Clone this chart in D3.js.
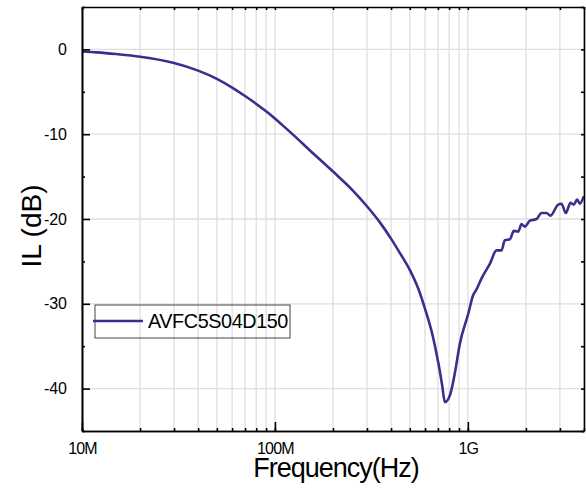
<!DOCTYPE html>
<html><head><meta charset="utf-8">
<script src="https://cdn.jsdelivr.net/npm/d3@7"></script>
<style>body{margin:0;background:#fff}svg{display:block;font-family:"Liberation Sans",Arial,sans-serif}</style>
</head><body><svg id="c" width="586" height="490"></svg>
<script>
const seriesName = "AVFC5S04D150";
const freqMHz = [10, 12, 15, 20, 30, 40, 50, 60, 70, 90, 100, 109, 129, 150, 200, 250, 300, 350, 402, 444, 500, 553, 600, 661, 702, 736, 760, 807, 856, 909, 1004, 1065, 1109, 1178, 1300, 1408, 1495, 1555, 1651, 1731, 1823, 1898, 1974, 2096, 2270, 2409, 2557, 2683, 2938, 3059, 3220, 3405, 3542, 3684, 3804, 3990];
const ilDb = [-0.24, -0.35, -0.55, -0.87, -1.6, -2.5, -3.47, -4.5, -5.5, -7.3, -8.15, -8.9, -10.4, -11.8, -14.4, -16.5, -18.5, -20.4, -22.4, -24.0, -26.0, -28.2, -30.6, -34.0, -36.9, -39.6, -41.6, -40.8, -38.2, -34.7, -31.2, -29.0, -28.3, -27.0, -25.3, -23.7, -23.7, -22.5, -22.4, -21.4, -21.5, -20.6, -20.9, -20.2, -20.0, -19.3, -19.3, -19.6, -18.3, -18.2, -19.3, -18.1, -18.3, -17.7, -18.2, -17.3];
const xTickValues = [1e7, 1e8, 1e9];
const xTickLabels = ["10M", "100M", "1G"];
const yTickValues = [0, -10, -20, -30, -40];
const yMinorValues = [5, -5, -15, -25, -35, -45];
const xTitle = "Frequency(Hz)";
const yTitle = "IL (dB)";

const L = 82, R = 584, T = 7, B = 431;
const svg = d3.select("#c");
svg.append("rect").attr("width", 586).attr("height", 490).attr("fill", "#fff");

const x = d3.scaleLog().domain([1e7, 4e9]).range([L, R]);
const y = d3.scaleLinear().domain([-45, 5]).range([B, T]);

const minorX = [];
for (let d = 1e7; d < 1e10; d *= 10) for (let k = 1; k <= 9; k++) { const v = d * k; if (v >= 1e7 && v <= 4e9) minorX.push(v); }

// grid
const g = svg.append("g");
g.selectAll(".vg").data(minorX).join("line")
  .attr("x1", d => x(d)).attr("x2", d => x(d)).attr("y1", T).attr("y2", B)
  .attr("stroke", "#dedede").attr("stroke-width", 1.3);
g.selectAll(".hg").data(yTickValues).join("line")
  .attr("x1", L).attr("x2", R).attr("y1", d => y(d)).attr("y2", d => y(d))
  .attr("stroke", "#dedede").attr("stroke-width", 1.3);

// curve
const data = freqMHz.map((f, i) => ({ f: f * 1e6, v: ilDb[i] }));
svg.append("path").datum(data)
  .attr("fill", "none").attr("stroke", "#3f2c8c").attr("stroke-width", 2.6)
  .attr("stroke-linejoin", "round")
  .attr("d", d3.line().x(d => x(d.f)).y(d => y(d.v)).curve(d3.curveMonotoneX));

// axes
function styleAxis(sel) {
  sel.select(".domain").attr("stroke", "#000").attr("stroke-width", 1.6);
  sel.selectAll(".tick line").attr("stroke", "#000").attr("stroke-width", 1.6);
  sel.selectAll(".tick text").attr("fill", "#000").attr("font-size", 16)
    .attr("font-family", '"Liberation Sans",Arial,sans-serif');
}
// bottom
const xb = svg.append("g").attr("transform", `translate(0,${B})`)
  .call(d3.axisBottom(x).tickValues(xTickValues).tickSize(-9).tickPadding(12)
    .tickFormat((d, i) => xTickLabels[i]).tickSizeOuter(0));
styleAxis(xb);
xb.selectAll(".tick text").attr("dy", "0.71em").attr("letter-spacing", -0.8);
const xbm = svg.append("g").attr("transform", `translate(0,${B})`)
  .call(d3.axisBottom(x).tickValues(minorX).tickSize(-3).tickFormat("").tickSizeOuter(0));
styleAxis(xbm);
// top
const xt = svg.append("g").attr("transform", `translate(0,${T})`)
  .call(d3.axisTop(x).tickValues(minorX).tickSize(-3).tickFormat("").tickSizeOuter(0));
styleAxis(xt);
// left
const yl = svg.append("g").attr("transform", `translate(${L},0)`)
  .call(d3.axisLeft(y).tickValues(yTickValues).tickSize(-8).tickPadding(15).tickSizeOuter(0));
styleAxis(yl);
yl.selectAll(".tick text").text(d => String(d).replace("−", "-"));
const ylm = svg.append("g").attr("transform", `translate(${L},0)`)
  .call(d3.axisLeft(y).tickValues(yMinorValues).tickSize(-3).tickFormat("").tickSizeOuter(0));
styleAxis(ylm);
// right
const yr = svg.append("g").attr("transform", `translate(${R},0)`)
  .call(d3.axisRight(y).tickValues(yTickValues.concat(yMinorValues)).tickSize(-3).tickFormat("").tickSizeOuter(0));
styleAxis(yr);

// titles
svg.append("text").attr("x", 336).attr("y", 477).attr("text-anchor", "middle")
  .attr("font-size", 27).attr("letter-spacing", -1).attr("fill", "#000").text(xTitle);
svg.append("text").attr("transform", "translate(41,226) rotate(-90)").attr("text-anchor", "middle")
  .attr("font-size", 28).attr("fill", "#000").text(yTitle);

// legend
const lg = svg.append("g");
lg.append("rect").attr("x", 95).attr("y", 305).attr("width", 195).attr("height", 33)
  .attr("fill", "none").attr("stroke", "#444").attr("stroke-width", 1);
lg.append("line").attr("x1", 93).attr("x2", 143).attr("y1", 321).attr("y2", 321)
  .attr("stroke", "#3f2c8c").attr("stroke-width", 2.6);
lg.append("text").attr("x", 148).attr("y", 328).attr("font-size", 19.8).attr("letter-spacing", -0.4)
  .attr("fill", "#000").text(seriesName);
</script></body></html>
